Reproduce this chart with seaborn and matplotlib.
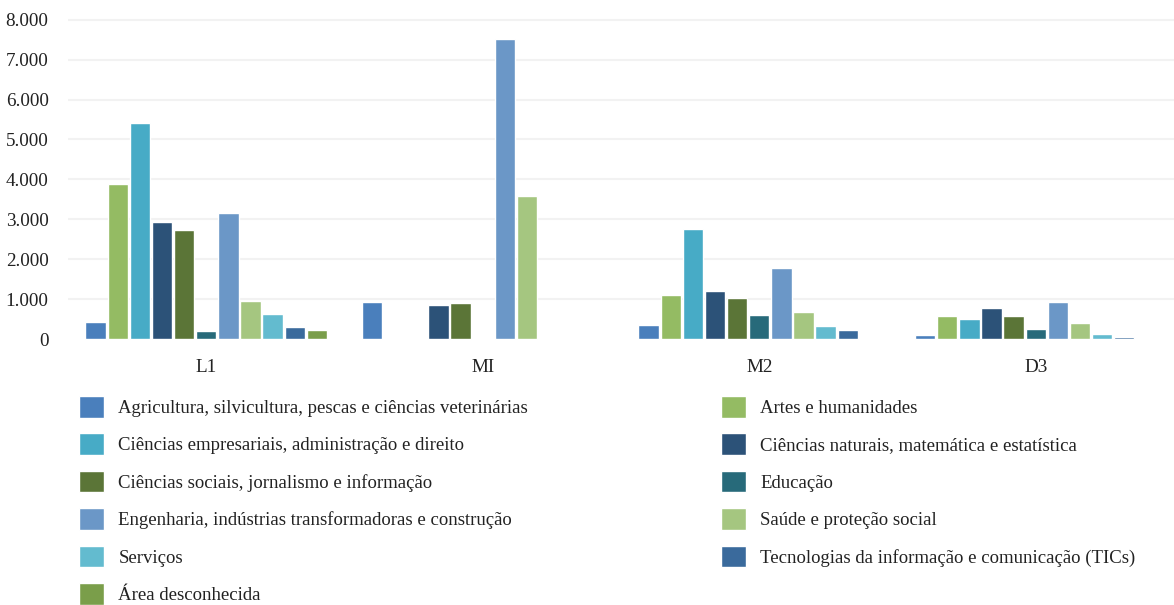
import pandas as pd
import numpy as np
import matplotlib
matplotlib.use("Agg")
import matplotlib.pyplot as plt
import seaborn as sns
from matplotlib.ticker import FuncFormatter
from matplotlib.patches import Patch

sns.set_style("white")
plt.rcParams["font.family"] = ["Liberation Serif", "DejaVu Serif"]

niveis = ["L1", "MI", "M2", "D3"]

areas = [
    "Agricultura, silvicultura, pescas e ciências veterinárias",
    "Artes e humanidades",
    "Ciências empresariais, administração e direito",
    "Ciências naturais, matemática e estatística",
    "Ciências sociais, jornalismo e informação",
    "Educação",
    "Engenharia, indústrias transformadoras e construção",
    "Saúde e proteção social",
    "Serviços",
    "Tecnologias da informação e comunicação (TICs)",
    "Área desconhecida",
]

cores = ["#4a7fbc", "#94bb63", "#47abc6", "#2c5278", "#5b7537", "#276a7a",
         "#6b97c7", "#a5c680", "#63bbcf", "#3a6a9c", "#7a9e4a"]

# values per area, in order L1, MI, M2, D3
agricultura = [430, 930, 350, 100]
artes = [3880, 0, 1100, 580]
empresariais = [5410, 0, 2760, 500]
naturais = [2930, 850, 1200, 780]
sociais = [2730, 900, 1030, 580]
educacao = [200, 0, 600, 250]
engenharia = [3160, 7520, 1780, 930]
saude = [950, 3580, 680, 400]
servicos = [630, 0, 330, 130]
tics = [300, 0, 230, 50]
desconhecida = [230, 0, 0, 0]

series = [agricultura, artes, empresariais, naturais, sociais, educacao,
          engenharia, saude, servicos, tics, desconhecida]

rows = []
for area, vals in zip(areas, series):
    for nivel, v in zip(niveis, vals):
        rows.append({"nivel": nivel, "area": area, "valor": v})
df = pd.DataFrame(rows)

fig = plt.figure(figsize=(11.74, 6.05), dpi=100)
ax = fig.add_axes([68/1174, 1 - 345/605, 1 - 68/1174, 335/605])

sns.barplot(data=df, x="nivel", y="valor", hue="area", order=niveis,
            hue_order=areas, palette=cores, width=0.88, gap=0.08,
            saturation=1, ax=ax, legend=False)

ax.set_xlim(-0.5, 3.5)
ax.set_ylim(-150, 8245)
ax.set_yticks(range(0, 8001, 1000))
ax.yaxis.set_major_formatter(FuncFormatter(lambda v, p: f"{v:,.0f}".replace(",", ".")))
ax.grid(axis="y", color="#f2f2f2", linewidth=1.5)
ax.yaxis.get_gridlines()[0].set_visible(False)
ax.set_axisbelow(True)
sns.despine(ax=ax, left=True, bottom=True)
ax.set_xlabel("")
ax.set_ylabel("")
ax.tick_params(axis="both", length=0, labelsize=13.8, labelcolor="#222222")
ax.tick_params(axis="x", pad=10)
ax.tick_params(axis="y", pad=14)

handles = [Patch(facecolor=c, label=a) for a, c in zip(areas, cores)]
leg_kw = dict(frameon=False, fontsize=13.5, handlelength=1.35, handleheight=1.4,
              handletextpad=0.75, labelspacing=0.84, borderpad=0, borderaxespad=0,
              loc="upper left")
leg1 = fig.legend(handles=handles[0::2], bbox_to_anchor=(79/1174, 1 - 396/605), **leg_kw)
leg2 = fig.legend(handles=handles[1::2], bbox_to_anchor=(721/1174, 1 - 396/605), **leg_kw)
for leg in (leg1, leg2):
    for t in leg.get_texts():
        t.set_color("#222222")

plt.savefig("out.png", dpi=100)
